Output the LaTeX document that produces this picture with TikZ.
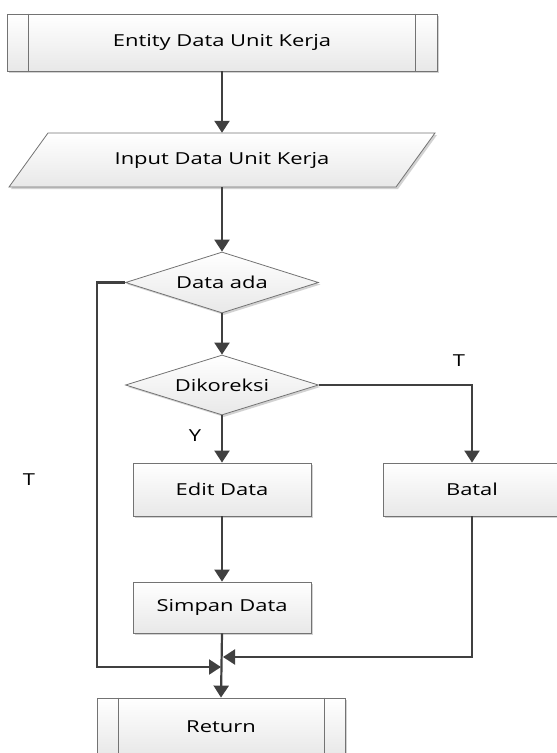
\documentclass[tikz,border=0pt]{standalone}
\usepackage{fontspec}
\setmainfont[FakeStretch=1.33]{Open Sans}
\usetikzlibrary{shapes.geometric,arrows.meta,shadows}
\begin{document}
\begin{tikzpicture}[x=1pt,y=-1pt,
  every node/.style={font=\fontsize{16.5}{19}\selectfont, text=black},
  chart/.style={draw=black!55, line width=0.8pt, top color=white, bottom color=black!9,
    drop shadow={shadow xshift=2pt, shadow yshift=-2pt, fill=black!35, opacity=0.5}},
  procbox/.style={chart, rectangle, minimum width=178pt, minimum height=53pt, inner sep=0pt},
  subbox/.style={chart, rectangle, inner sep=0pt},
  decision/.style={chart, diamond, minimum width=193pt, minimum height=61pt, inner sep=0pt, shape aspect=3.16},
  inner/.style={draw=black!55, line width=0.8pt},
  conn/.style={draw=black!75, line width=2.2pt, -{Triangle[width=15pt,length=12pt]}},
  lbl/.style={inner sep=0pt}
]
\useasboundingbox (0,0) rectangle (557,753);
\clip (0,0) rectangle (557,753);

% start: predefined process
\node[subbox, minimum width=430pt, minimum height=57pt] (ent) at (222,42.5) {Entity Data Unit Kerja};
\draw[inner] ([xshift=22pt]ent.north west) -- ([xshift=22pt]ent.south west);
\draw[inner] ([xshift=-22pt]ent.north east) -- ([xshift=-22pt]ent.south east);

% input parallelogram
\path[chart] (48,133) -- (435,133) -- (396,187) -- (9,187) -- cycle;
\node[minimum width=387pt, minimum height=54pt, inner sep=0pt] (inp) at (222,160) {Input Data Unit Kerja};

% decisions
\node[decision] (dada) at (222,282.5) {Data ada};
\node[decision, minimum height=60pt] (dkor) at (222,385) {Dikoreksi};

% processes
\node[procbox] (edit) at (222,489.5) {Edit Data};
\node[procbox] (batal) at (472,489.5) {Batal};
\node[procbox, minimum height=51pt] (simpan) at (222,607.5) {Simpan Data};

% end: predefined process
\node[subbox, minimum width=248pt, minimum height=57pt] (ret) at (221,726.5) {Return};
\draw[inner] ([xshift=22pt]ret.north west) -- ([xshift=22pt]ret.south west);
\draw[inner] ([xshift=-21pt]ret.north east) -- ([xshift=-21pt]ret.south east);

% junction points on the main line
\coordinate (lc) at (97,667);
\coordinate (jl) at (221,667);
\coordinate (jr) at (223,657);

% connectors
\draw[conn] (ent.south) -- (inp.north);
\draw[conn] (inp.south) -- (dada.north);
\draw[conn] (dada.south) -- (dkor.north);
\draw[conn] (dkor.south) -- (edit.north);
\draw[conn] (dkor.east) -| (batal.north);
\draw[conn] (edit.south) -- (simpan.north);
\draw[conn] (simpan.south) -- (ret.north);
\draw[conn] (dada.west) -| (lc) -- (jl);
\draw[conn] (batal.south) |- (jr);

% branch labels
\node[lbl] (ly) at (195,436) {Y};
\node[lbl] (lt1) at (459,361) {T};
\node[lbl] (lt2) at (29,479.5) {T};
\end{tikzpicture}
\end{document}
